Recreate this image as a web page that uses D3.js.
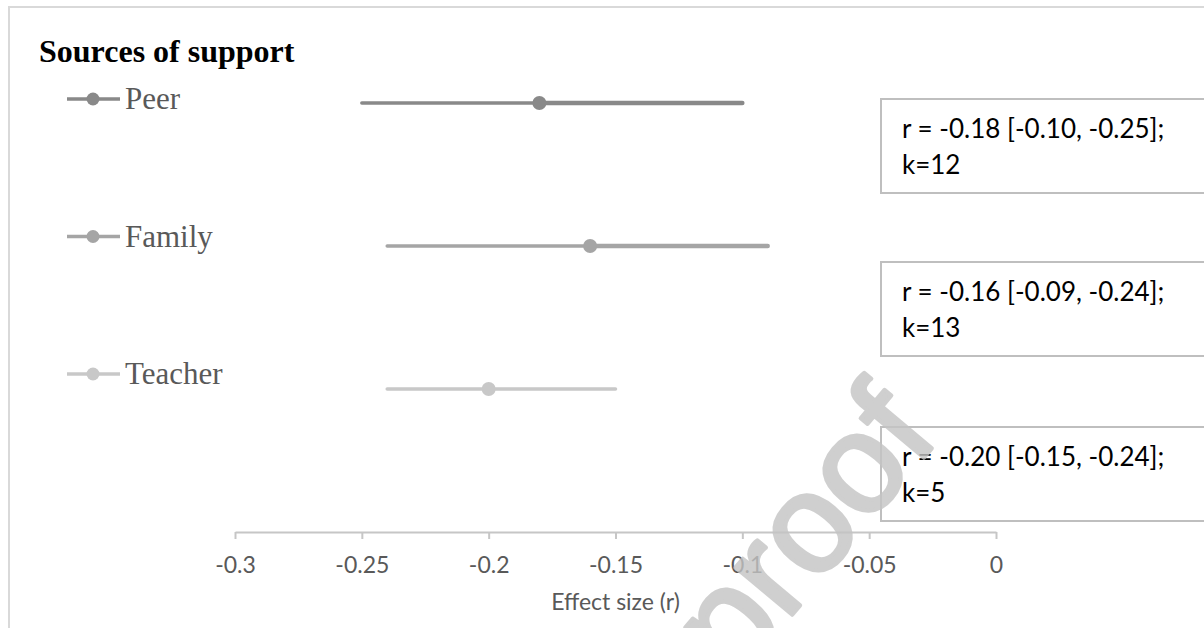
<!DOCTYPE html>
<html>
<head>
<meta charset="utf-8">
<script src="https://cdn.jsdelivr.net/npm/d3@7"></script>
<style>
  body { margin: 0; background: #fff; }
  svg { display: block; }
  .axis path, .axis line { stroke: #c6c6c6; stroke-width: 2; }
  .axis text { font-family: Lato, "Open Sans", sans-serif; font-size: 23px; fill: #595959; }
</style>
</head>
<body>
<div id="chart"></div>
<script>
// sources of support, pooled r with confidence interval
const categories = ['Peer', 'Family', 'Teacher'];
const estimates = [-0.18, -0.16, -0.20];
const lowerCI = [-0.25, -0.24, -0.24];
const upperCI = [-0.10, -0.09, -0.15];
const kValues = [12, 13, 5];
const tickValues = [-0.3, -0.25, -0.2, -0.15, -0.1, -0.05, 0];

const colors = ['#898989', '#a5a5a5', '#c8c8c8'];
const labelShift = [-4, 16, 38]; // data label box offset from its row

const width = 1204, height = 628;

const svg = d3.select('#chart')
  .append('svg')
  .attr('width', width)
  .attr('height', height);

svg.append('rect')
  .attr('x', 9).attr('y', 7)
  .attr('width', 1300).attr('height', 700)
  .attr('fill', '#fff')
  .attr('stroke', '#d9d9d9')
  .attr('stroke-width', 2);

svg.append('text')
  .attr('x', 39).attr('y', 62)
  .style('font-family', '"Liberation Serif", "Times New Roman", serif')
  .style('font-weight', 'bold')
  .style('font-size', '32px')
  .text('Sources of support');

const x = d3.scaleLinear().domain([-0.3, 0]).range([235, 996]);
const y = d3.scalePoint().domain(categories).range([103, 389]);

const rows = categories.map((c, i) => ({
  name: c, est: estimates[i], lo: lowerCI[i], hi: upperCI[i], k: kValues[i], color: colors[i], shift: labelShift[i]
}));

// axis
svg.append('g')
  .attr('class', 'axis')
  .attr('transform', 'translate(0,532)')
  .call(d3.axisBottom(x).tickValues(tickValues).tickSize(7).tickSizeOuter(0).tickPadding(18).tickFormat((d) => String(d)));

svg.append('text')
  .attr('x', (x(-0.3) + x(0)) / 2).attr('y', 610)
  .attr('text-anchor', 'middle')
  .style('font-family', 'Lato, "Open Sans", sans-serif')
  .style('font-size', '23px')
  .style('fill', '#595959')
  .text('Effect size (r)');

// interval lines and points
const row = svg.selectAll('g.row')
  .data(rows)
  .enter()
  .append('g')
  .attr('class', 'row');

row.append('line')
  .attr('x1', (d) => x(d.lo)).attr('x2', (d) => x(d.est))
  .attr('y1', (d) => y(d.name)).attr('y2', (d) => y(d.name))
  .attr('stroke', (d) => d.color)
  .attr('stroke-width', 3.5)
  .attr('stroke-linecap', 'round');

row.append('line')
  .attr('x1', (d) => x(d.est)).attr('x2', (d) => x(d.hi))
  .attr('y1', (d) => y(d.name)).attr('y2', (d) => y(d.name))
  .attr('stroke', (d) => d.color)
  .attr('stroke-width', (d, i) => i < 2 ? 4.5 : 3.5)
  .attr('stroke-linecap', 'round');

row.append('circle')
  .attr('cx', (d) => x(d.est))
  .attr('cy', (d) => y(d.name))
  .attr('r', 7)
  .attr('fill', (d) => d.color);

// legend
const legend = svg.selectAll('g.legend')
  .data(rows)
  .enter()
  .append('g')
  .attr('class', 'legend')
  .attr('transform', (d, i) => `translate(0,${99 + i * 137.5})`);

legend.append('line')
  .attr('x1', 67).attr('x2', 120)
  .attr('stroke', (d) => d.color)
  .attr('stroke-width', 3.5);

legend.append('circle')
  .attr('cx', 93).attr('r', 6.5)
  .attr('fill', (d) => d.color);

legend.append('text')
  .attr('x', 125).attr('y', 10)
  .style('font-family', '"Liberation Serif", "Times New Roman", serif')
  .style('font-size', '31px')
  .style('fill', '#595959')
  .text((d) => d.name);

// data label boxes
const box = svg.selectAll('g.label')
  .data(rows)
  .enter()
  .append('g')
  .attr('class', 'label')
  .attr('transform', (d) => `translate(881,${y(d.name) + d.shift})`);

box.append('rect')
  .attr('width', 400).attr('height', 94)
  .attr('fill', '#fff')
  .attr('stroke', '#bfbfbf')
  .attr('stroke-width', 2);

const boxText = box.append('text')
  .style('font-family', 'Lato, "Open Sans", sans-serif')
  .style('font-size', '26px')
  .style('fill', '#000');

boxText.append('tspan')
  .attr('x', 21).attr('y', 39)
  .text((d) => `r = ${d.est.toFixed(2)} [${d.hi.toFixed(2)}, ${d.lo.toFixed(2)}];`);

boxText.append('tspan')
  .attr('x', 21).attr('y', 75)
  .text((d) => `k=${d.k}`);

// watermark
svg.append('text')
  .attr('transform', 'translate(736,682) rotate(-50)')
  .style('font-family', '"Liberation Sans", Arial, sans-serif')
  .style('font-size', '140px')
  .style('fill', '#c4c4c4')
  .style('stroke', '#c4c4c4')
  .style('stroke-width', 4)
  .style('stroke-linejoin', 'round')
  .style('opacity', 0.8)
  .text('proof');
</script>
</body>
</html>
